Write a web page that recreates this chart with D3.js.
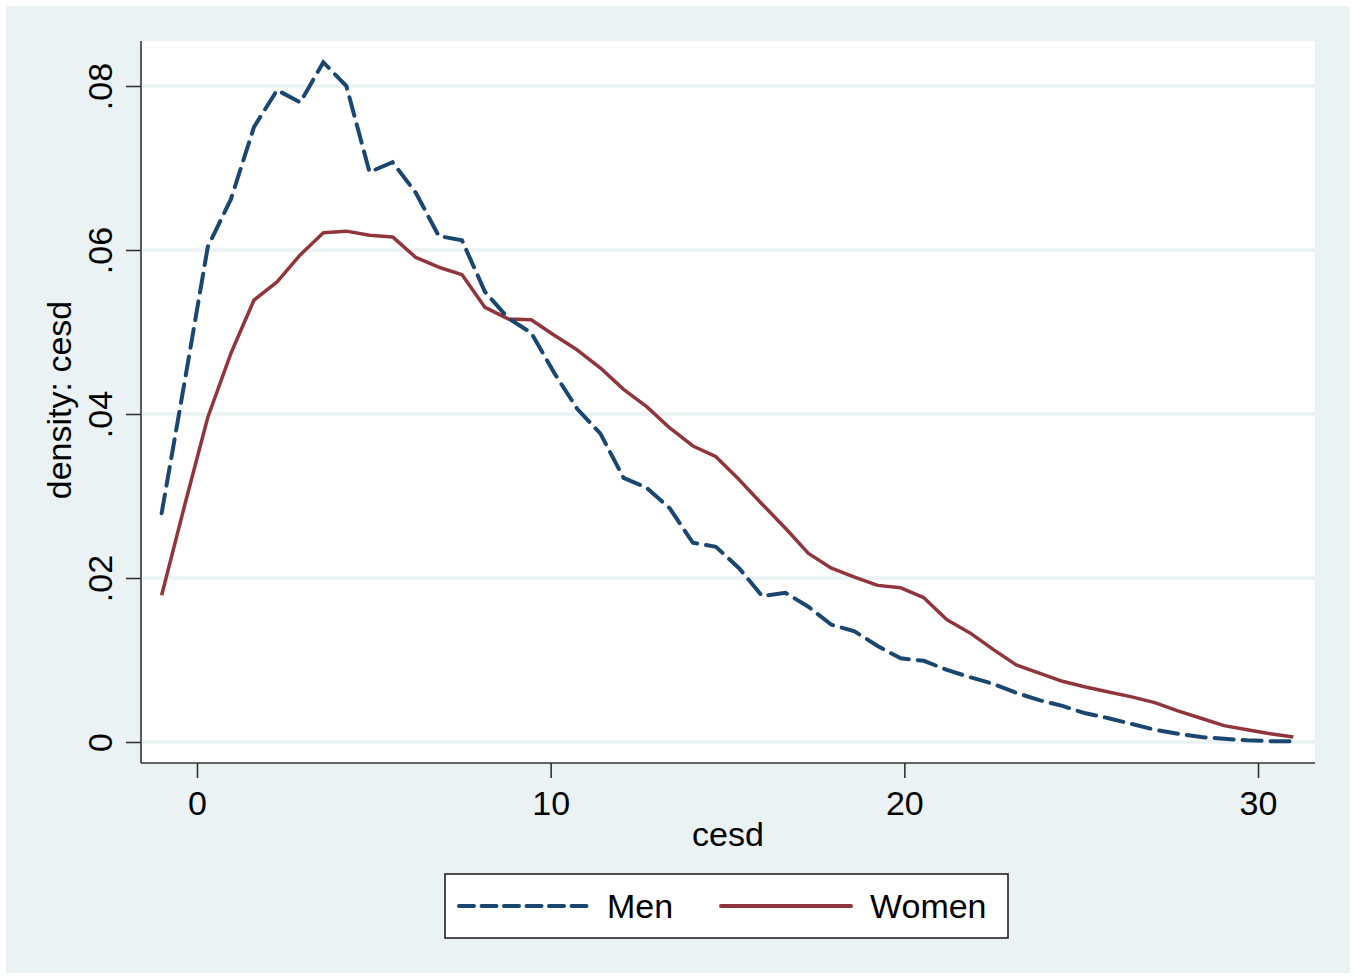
<!DOCTYPE html>
<html>
<head>
<meta charset="utf-8">
<title>density: cesd</title>
<style>
  body { margin: 0; background: #fff; }
  svg text { font-family: "Liberation Sans", Arial, sans-serif; fill: #000; }
</style>
</head>
<body>
<svg id="chart" width="1357" height="979"></svg>
<script src="https://d3js.org/d3.v7.min.js"></script>
<script>
// kernel density grid points (50 points from -1 to 31)
var xs = [-1.000, -0.347, 0.306, 0.959, 1.612, 2.265, 2.918, 3.571, 4.224, 4.878,
          5.531, 6.184, 6.837, 7.490, 8.143, 8.796, 9.449, 10.102, 10.755, 11.408,
          12.061, 12.714, 13.367, 14.020, 14.673, 15.327, 15.980, 16.633, 17.286, 17.939,
          18.592, 19.245, 19.898, 20.551, 21.204, 21.857, 22.510, 23.163, 23.816, 24.469,
          25.122, 25.776, 26.429, 27.082, 27.735, 28.388, 29.041, 29.694, 30.347, 31.000];

var men = [.0279, .0440, .0604, .0662, .0750, .0795, .0780, .0829, .0800, .0695,
           .0707, .0670, .0617, .0612, .0549, .0517, .0499, .0450, .0406, .0376,
           .0322, .0310, .0285, .0243, .0238, .0212, .0178, .0182, .0165, .0143,
           .0135, .0117, .0102, .0099, .0088, .0079, .0071, .0060, .0051, .0044,
           .0035, .0029, .0022, .0015, .0010, .0006, .0004, .0002, .0001, .0001];

var women = [.0179, .0289, .0396, .0474, .0539, .0561, .0594, .0621, .0623, .0618,
             .0616, .0591, .0579, .0570, .0530, .0516, .0515, .0496, .0478, .0456,
             .0430, .0409, .0383, .0361, .0348, .0320, .0290, .0261, .0230, .0212,
             .0201, .0191, .0188, .0176, .0149, .0133, .0113, .0094, .0084, .0074,
             .0067, .0061, .0055, .0048, .0038, .0029, .0020, .0015, .0010, .0006];

var xTicks = [0, 10, 20, 30];
var yTicks = [0, .02, .04, .06, .08];
var yTickLabels = ["0", ".02", ".04", ".06", ".08"];
var seriesNames = ["Men", "Women"];

var navy = "#1a476f", maroon = "#90353b", bg = "#eaf2f3";

var svg = d3.select("#chart");

// outer graph region
svg.append("rect")
    .attr("x", 6).attr("y", 6)
    .attr("width", 1344).attr("height", 967)
    .attr("fill", bg);

var plotL = 141, plotR = 1315, plotT = 41, plotB = 763;

svg.append("rect")
    .attr("x", plotL).attr("y", plotT)
    .attr("width", plotR - plotL).attr("height", plotB - plotT)
    .attr("fill", "#fff");

var x = d3.scaleLinear().domain([0, 30]).range([197, 1258]);
var y = d3.scaleLinear().domain([0, .08]).range([742, 86]);

// gridlines
svg.append("g").selectAll("line")
    .data(yTicks)
    .enter().append("line")
    .attr("x1", plotL + 2).attr("x2", plotR)
    .attr("y1", function(d) { return y(d); })
    .attr("y2", function(d) { return y(d); })
    .attr("stroke", bg)
    .attr("stroke-width", 3.5);

// y axis
var yAxis = d3.axisLeft(y)
    .tickValues(yTicks)
    .tickFormat(function(d, i) { return yTickLabels[i]; })
    .tickSize(15)
    .tickSizeOuter(0);

var gy = svg.append("g").attr("transform", "translate(" + plotL + ",0)").call(yAxis);
gy.select(".domain").remove();
gy.selectAll(".tick line").attr("stroke", "#333").attr("stroke-width", 1.6);
gy.selectAll(".tick text")
    .attr("x", null).attr("dy", null)
    .attr("transform", "translate(-29,0) rotate(-90)")
    .attr("text-anchor", "middle")
    .style("font-size", "34px");
svg.append("line")
    .attr("x1", plotL).attr("x2", plotL)
    .attr("y1", plotT).attr("y2", plotB)
    .attr("stroke", "#333").attr("stroke-width", 1.6);

// x axis
var xAxis = d3.axisBottom(x)
    .tickValues(xTicks)
    .tickSize(15)
    .tickSizeOuter(0);

var gx = svg.append("g").attr("transform", "translate(0," + plotB + ")").call(xAxis);
gx.select(".domain").remove();
gx.selectAll(".tick line").attr("stroke", "#333").attr("stroke-width", 1.6);
gx.selectAll(".tick text")
    .attr("y", 52).attr("dy", null)
    .style("font-size", "34px");
svg.append("line")
    .attr("x1", plotL).attr("x2", plotR)
    .attr("y1", plotB).attr("y2", plotB)
    .attr("stroke", "#333").attr("stroke-width", 1.6);

// axis titles
svg.append("text")
    .attr("transform", "translate(71,400) rotate(-90)")
    .attr("text-anchor", "middle")
    .style("font-size", "34px")
    .text("density: cesd");

svg.append("text")
    .attr("x", 728).attr("y", 846)
    .attr("text-anchor", "middle")
    .style("font-size", "34px")
    .text("cesd");

// density lines
var line = d3.line()
    .x(function(d) { return x(d[0]); })
    .y(function(d) { return y(d[1]); });

svg.append("path")
    .datum(xs.map(function(v, i) { return [v, women[i]]; }))
    .attr("d", line)
    .attr("fill", "none")
    .attr("stroke", maroon)
    .attr("stroke-width", 3.5)
    .attr("stroke-linejoin", "round");

svg.append("path")
    .datum(xs.map(function(v, i) { return [v, men[i]]; }))
    .attr("d", line)
    .attr("fill", "none")
    .attr("stroke", navy)
    .attr("stroke-width", 4)
    .attr("stroke-dasharray", "19,9")
    .attr("stroke-linecap", "round");

// legend
var lg = svg.append("g");
lg.append("rect")
    .attr("x", 445).attr("y", 874)
    .attr("width", 563).attr("height", 64)
    .attr("fill", "#fff")
    .attr("stroke", "#222")
    .attr("stroke-width", 1.6);

var legendItems = [
    { name: seriesNames[0], color: navy, dash: "15,7.5", x1: 459, x2: 589, tx: 607 },
    { name: seriesNames[1], color: maroon, dash: null, x1: 721, x2: 851, tx: 870 }
];

legendItems.forEach(function(d) {
    lg.append("line")
        .attr("x1", d.x1).attr("x2", d.x2)
        .attr("y1", 906).attr("y2", 906)
        .attr("stroke", d.color)
        .attr("stroke-width", 4)
        .attr("stroke-linecap", "round")
        .attr("stroke-dasharray", d.dash);
    lg.append("text")
        .attr("x", d.tx).attr("y", 918)
        .style("font-size", "34px")
        .text(d.name);
});
</script>
</body>
</html>
